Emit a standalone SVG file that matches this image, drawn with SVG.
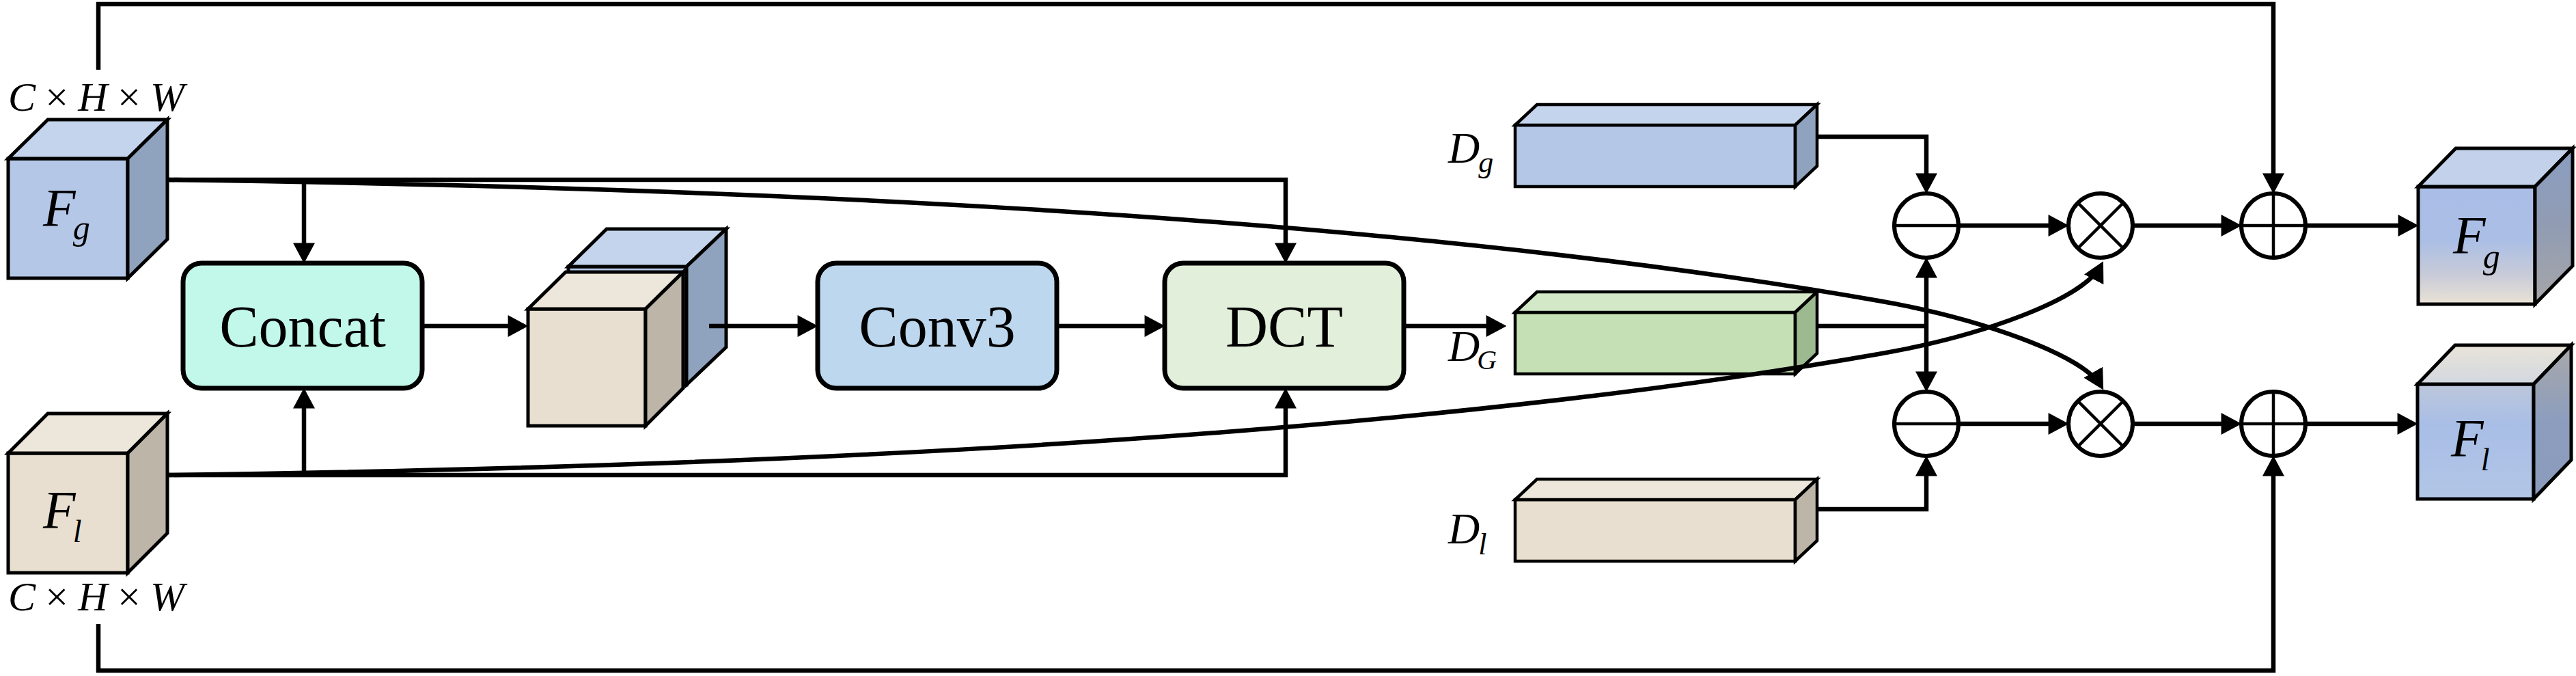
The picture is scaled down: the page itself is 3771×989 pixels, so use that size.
<svg xmlns="http://www.w3.org/2000/svg" width="3771" height="989" viewBox="0 0 3771 989">
<style>
.ln{fill:none;stroke:#000;stroke-width:6.5}
.arr{marker-end:url(#ah)}
.box{stroke:#000;stroke-width:7}
.cb{stroke:#000;stroke-width:5;stroke-linejoin:miter}
.bar{stroke:#000;stroke-width:4.5;stroke-linejoin:miter}
.opc{fill:#fff;stroke:#000;stroke-width:6}
.opl{stroke:#000;stroke-width:4.5}
.bt{font-family:"Liberation Serif","Times New Roman",serif;font-size:86px;text-anchor:middle;fill:#000}
.it{font-family:"Liberation Serif","Times New Roman",serif;font-style:italic;fill:#000}
.up{font-style:normal}
.bF{fill:#b4c7e7}.bT{fill:#c4d4ed}.bR{fill:#8fa2be}
.eF{fill:#e8dfd0}.eT{fill:#ede6da}.eR{fill:#bdb5a8}
.gF{fill:#c5e0b4}.gT{fill:#d3e8c6}.gR{fill:#9db98f}
</style>
<defs>
<marker id="ah" markerUnits="userSpaceOnUse" markerWidth="30" markerHeight="32" viewBox="0 0 28 30" refX="22" refY="15" orient="auto">
<path d="M0,0 L28,15 L0,30 Z" fill="#000"/>
</marker>
<linearGradient id="oFgF" x1="0" y1="0" x2="0" y2="1">
<stop offset="0" stop-color="#a9bde6"/><stop offset="0.45" stop-color="#aabee6"/><stop offset="0.75" stop-color="#c8cbd8"/><stop offset="1" stop-color="#e9e2d5"/>
</linearGradient>
<linearGradient id="oFgR" x1="0" y1="0" x2="0" y2="1">
<stop offset="0" stop-color="#8a9dc0"/><stop offset="0.5" stop-color="#919cb3"/><stop offset="1" stop-color="#a6a6a8"/>
</linearGradient>
<linearGradient id="oFlF" x1="0" y1="0" x2="0" y2="1">
<stop offset="0" stop-color="#bcc7db"/><stop offset="0.35" stop-color="#a9bee6"/><stop offset="1" stop-color="#b2c6e7"/>
</linearGradient>
<linearGradient id="oFlT" x1="0" y1="0" x2="0" y2="1">
<stop offset="0" stop-color="#e9e4d9"/><stop offset="1" stop-color="#d2d7e0"/>
</linearGradient>
<linearGradient id="oFlR" x1="0" y1="0" x2="0" y2="1">
<stop offset="0" stop-color="#a8a8a9"/><stop offset="0.5" stop-color="#8c9dbe"/><stop offset="1" stop-color="#8a9bbb"/>
</linearGradient>
</defs>

<g id="Fg">
<rect class="cb bF" x="12" y="232" width="175" height="175"/>
<polygon class="cb bT" points="12,232 70,175 245,175 187,232"/>
<polygon class="cb bR" points="187,232 245,175 245,350 187,407"/>
<text class="it" x="63" y="330" font-size="78">F<tspan font-size="50" dx="-4" dy="20">g</tspan></text>
<text class="it" x="12" y="162" font-size="60" textLength="258" lengthAdjust="spacing">C<tspan class="up">×</tspan>H<tspan class="up">×</tspan>W</text>
</g>

<g id="Fl">
<rect class="cb eF" x="12" y="663" width="175" height="175"/>
<polygon class="cb eT" points="12,663 70,605 245,605 187,663"/>
<polygon class="cb eR" points="187,663 245,605 245,780 187,838"/>
<text class="it" x="63" y="772" font-size="78">F<tspan font-size="46" dx="-4" dy="21">l</tspan></text>
<text class="it" x="12" y="893" font-size="60" textLength="258" lengthAdjust="spacing">C<tspan class="up">×</tspan>H<tspan class="up">×</tspan>W</text>
</g>

<g id="concat">
<rect class="box" x="268" y="385" width="350" height="183" rx="27" fill="#c2f8ea"/>
<text class="bt" x="443" y="507">Concat</text>
</g>

<g id="concatCube">
<rect class="cb bF" x="832" y="390" width="173" height="173"/>
<polygon class="cb bT" points="832,390 888,335 1063,335 1005,390"/>
<polygon class="cb bR" points="1005,390 1063,335 1063,508 1005,563"/>
<rect class="cb eF" x="773" y="452" width="172" height="171"/>
<polygon class="cb eT" points="773,452 828,398 1000,398 945,452"/>
<polygon class="cb eR" points="945,452 1000,398 1000,568 945,623"/>
</g>

<g id="conv3">
<rect class="box" x="1197" y="385" width="350" height="183" rx="27" fill="#bdd7ee"/>
<text class="bt" x="1372" y="507">Conv3</text>
</g>

<g id="dct">
<rect class="box" x="1705" y="385" width="350" height="183" rx="27" fill="#e2efda"/>
<text class="bt" x="1880" y="507">DCT</text>
</g>

<g id="Dg">
<rect class="bar bF" x="2218" y="183" width="410" height="90"/>
<polygon class="bar bT" points="2218,183 2250,153 2660,153 2628,183"/>
<polygon class="bar bR" points="2628,183 2660,153 2660,243 2628,273"/>
<text class="it" x="2120" y="238" font-size="64">D<tspan font-size="44" dx="-2" dy="14">g</tspan></text>
</g>

<g id="DG">
<rect class="bar gF" x="2218" y="457" width="410" height="90"/>
<polygon class="bar gT" points="2218,457 2250,427 2660,427 2628,457"/>
<polygon class="bar gR" points="2628,457 2660,427 2660,517 2628,547"/>
<text class="it" x="2120" y="528" font-size="64">D<tspan font-size="40" dx="-4" dy="12">G</tspan></text>
</g>

<g id="Dl">
<rect class="bar eF" x="2218" y="731" width="410" height="90"/>
<polygon class="bar eT" points="2218,731 2250,701 2660,701 2628,731"/>
<polygon class="bar eR" points="2628,731 2660,701 2660,791 2628,821"/>
<text class="it" x="2120" y="795" font-size="64">D<tspan font-size="44" dx="-2" dy="16">l</tspan></text>
</g>

<g id="sub1"><circle class="opc" cx="2820" cy="330" r="47"/><line class="opl" x1="2773" y1="330" x2="2867" y2="330"/></g>
<g id="sub2"><circle class="opc" cx="2820" cy="620" r="47"/><line class="opl" x1="2773" y1="620" x2="2867" y2="620"/></g>
<g id="mul1"><circle class="opc" cx="3075" cy="330" r="47"/><line class="opl" x1="3042" y1="297" x2="3108" y2="363"/><line class="opl" x1="3108" y1="297" x2="3042" y2="363"/></g>
<g id="mul2"><circle class="opc" cx="3075" cy="620" r="47"/><line class="opl" x1="3042" y1="587" x2="3108" y2="653"/><line class="opl" x1="3108" y1="587" x2="3042" y2="653"/></g>
<g id="add1"><circle class="opc" cx="3328" cy="330" r="47"/><line class="opl" x1="3281" y1="330" x2="3375" y2="330"/><line class="opl" x1="3328" y1="283" x2="3328" y2="377"/></g>
<g id="add2"><circle class="opc" cx="3328" cy="620" r="47"/><line class="opl" x1="3281" y1="620" x2="3375" y2="620"/><line class="opl" x1="3328" y1="573" x2="3328" y2="667"/></g>

<g id="FgOut">
<rect class="cb" x="3540" y="273" width="171" height="172" fill="url(#oFgF)"/>
<polygon class="cb" points="3540,273 3595,217 3766,217 3711,273" fill="#c3d2ea"/>
<polygon class="cb" points="3711,273 3766,217 3766,389 3711,445" fill="url(#oFgR)"/>
<text class="it" x="3591" y="370" font-size="78">F<tspan font-size="50" dx="-4" dy="22">g</tspan></text>
</g>

<g id="FlOut">
<rect class="cb" x="3539" y="562" width="170" height="168" fill="url(#oFlF)"/>
<polygon class="cb" points="3539,562 3594,505 3764,505 3709,562" fill="url(#oFlT)"/>
<polygon class="cb" points="3709,562 3764,505 3764,673 3709,730" fill="url(#oFlR)"/>
<text class="it" x="3588" y="667" font-size="78">F<tspan font-size="46" dx="-4" dy="21">l</tspan></text>
</g>

<g id="connectors">
<path class="ln arr" d="M144,102 V6 H3328 V277"/>
<path class="ln arr" d="M144,913 V981 H3328 V673"/>
<path class="ln arr" d="M245,263 H1882 V379"/>
<path class="ln arr" d="M445,263 V379"/>
<path class="ln arr" d="M245,695 H1882 V574"/>
<path class="ln arr" d="M445,695 V574"/>
<path class="ln arr" d="M618,477 H767"/>
<path class="ln arr" d="M1038,477 H1191"/>
<path class="ln arr" d="M1547,477 H1699"/>
<path class="ln arr" d="M2055,477 H2199"/>
<path class="ln arr" d="M2660,200 H2820 V277"/>
<path class="ln" d="M2660,477 H2820"/>
<path class="ln arr" d="M2820,477 V383"/>
<path class="ln arr" d="M2820,477 V567"/>
<path class="ln arr" d="M2660,745 H2820 V673"/>
<path class="ln arr" d="M2867,330 H3022"/>
<path class="ln arr" d="M2867,620 H3022"/>
<path class="ln arr" d="M3122,330 H3275"/>
<path class="ln arr" d="M3122,620 H3275"/>
<path class="ln arr" d="M3375,330 H3534"/>
<path class="ln arr" d="M3375,620 H3533"/>
<path class="ln arr" d="M245,263 C900,272 1950,300 2750,440 C2900,466 3050,520 3076,565"/>
<path class="ln arr" d="M245,695 C900,686 1950,658 2750,518 C2900,492 3050,438 3076,388"/>
</g>
</svg>
